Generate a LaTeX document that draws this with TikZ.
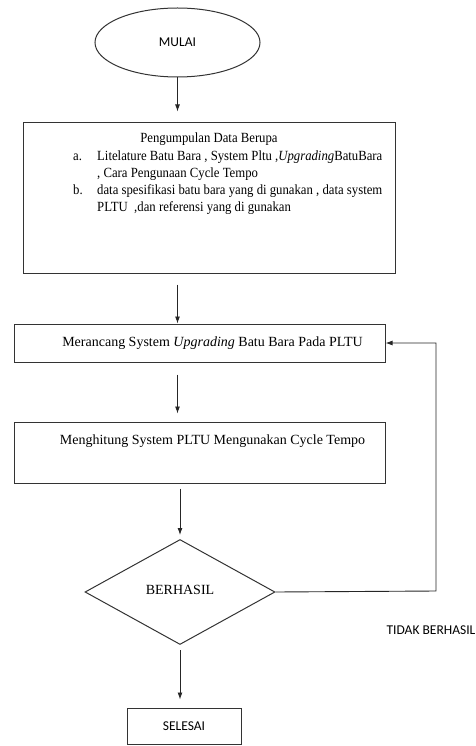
\documentclass[tikz,border=0pt]{standalone}
\usepackage{fontspec}
\setmainfont{Liberation Serif}
\newfontfamily\sempit[FakeStretch=0.91]{Liberation Serif}
\newfontfamily\calibri{Carlito}
\usetikzlibrary{shapes.geometric}
\usetikzlibrary{arrows.meta}

\begin{document}
\begin{tikzpicture}[x=1pt,y=-1pt,
        kotak/.style={rectangle,draw=black!80,line width=1pt,inner sep=0pt},
        panah/.style={draw=black!85,line width=0.9pt,-{Latex[length=7pt,width=5pt]}},
        serif/.style={font=\fontsize{14}{17}\selectfont},
        sans/.style={font=\calibri\fontsize{13.5}{15}\selectfont}]
    \useasboundingbox (0,0) rectangle (475,746);
    \node at (177.5,42.5) [ellipse,draw=black!80,line width=1pt,minimum width=165pt,minimum height=69pt,sans] (mulai) {MULAI};
    \node at (209,198) [kotak,minimum width=372pt,minimum height=150pt] (data) {};
    \node at (209,139) [serif,inner sep=0pt] (judul) {\sempit Pengumpulan Data Berupa};
    \node at (73,148) [anchor=north west,serif,inner sep=0pt] (isi) {\sempit
        \begin{tabular}{@{}p{24pt}@{}l@{}}
        a. & Litelature Batu Bara , System Pltu ,\textit{Upgrading}BatuBara\\
           & , Cara Pengunaan Cycle Tempo\\
        b. & data spesifikasi batu bara yang di gunakan , data system\\
           & PLTU\ \ ,dan referensi yang di gunakan
        \end{tabular}};
    \node at (199.5,343) [kotak,minimum width=371pt,minimum height=38pt,serif] (rancang) {\hspace*{26pt}Merancang System \textit{Upgrading} Batu Bara Pada PLTU};
    \node at (199.5,452.5) [kotak,minimum width=371pt,text height=22pt,text depth=39pt,serif] (hitung) {\hspace*{26pt}Menghitung System PLTU Mengunakan Cycle Tempo};
    \node at (180,592) [diamond,draw=black!80,line width=1pt,minimum width=190pt,minimum height=105pt,inner sep=0pt,serif] (cek) {\raisebox{4pt}{BERHASIL}};
    \node at (184,726) [kotak,minimum width=114pt,minimum height=36pt,sans] (selesai) {SELESAI};
    \node at (431,630) [sans] (tidak) {TIDAK BERHASIL};
    \coordinate (balik) at (436,591);

    \draw[panah,shorten >=11pt] (mulai) -- (data.north -| mulai);
    \draw[panah,shorten <=11pt] (data.south -| mulai) -- (rancang.north -| mulai);
    \draw[panah,shorten <=12pt,shorten >=8pt] (rancang.south -| mulai) -- (hitung.north -| mulai);
    \draw[panah,shorten <=5pt,shorten >=4pt] (hitung.south -| cek) -- (cek.north);
    \draw[panah,shorten <=5pt,shorten >=8pt] (cek.south) -- (selesai.north -| cek);
    \draw[panah] (cek.east) -- (balik) |- (rancang.east);
\end{tikzpicture}
\end{document}
